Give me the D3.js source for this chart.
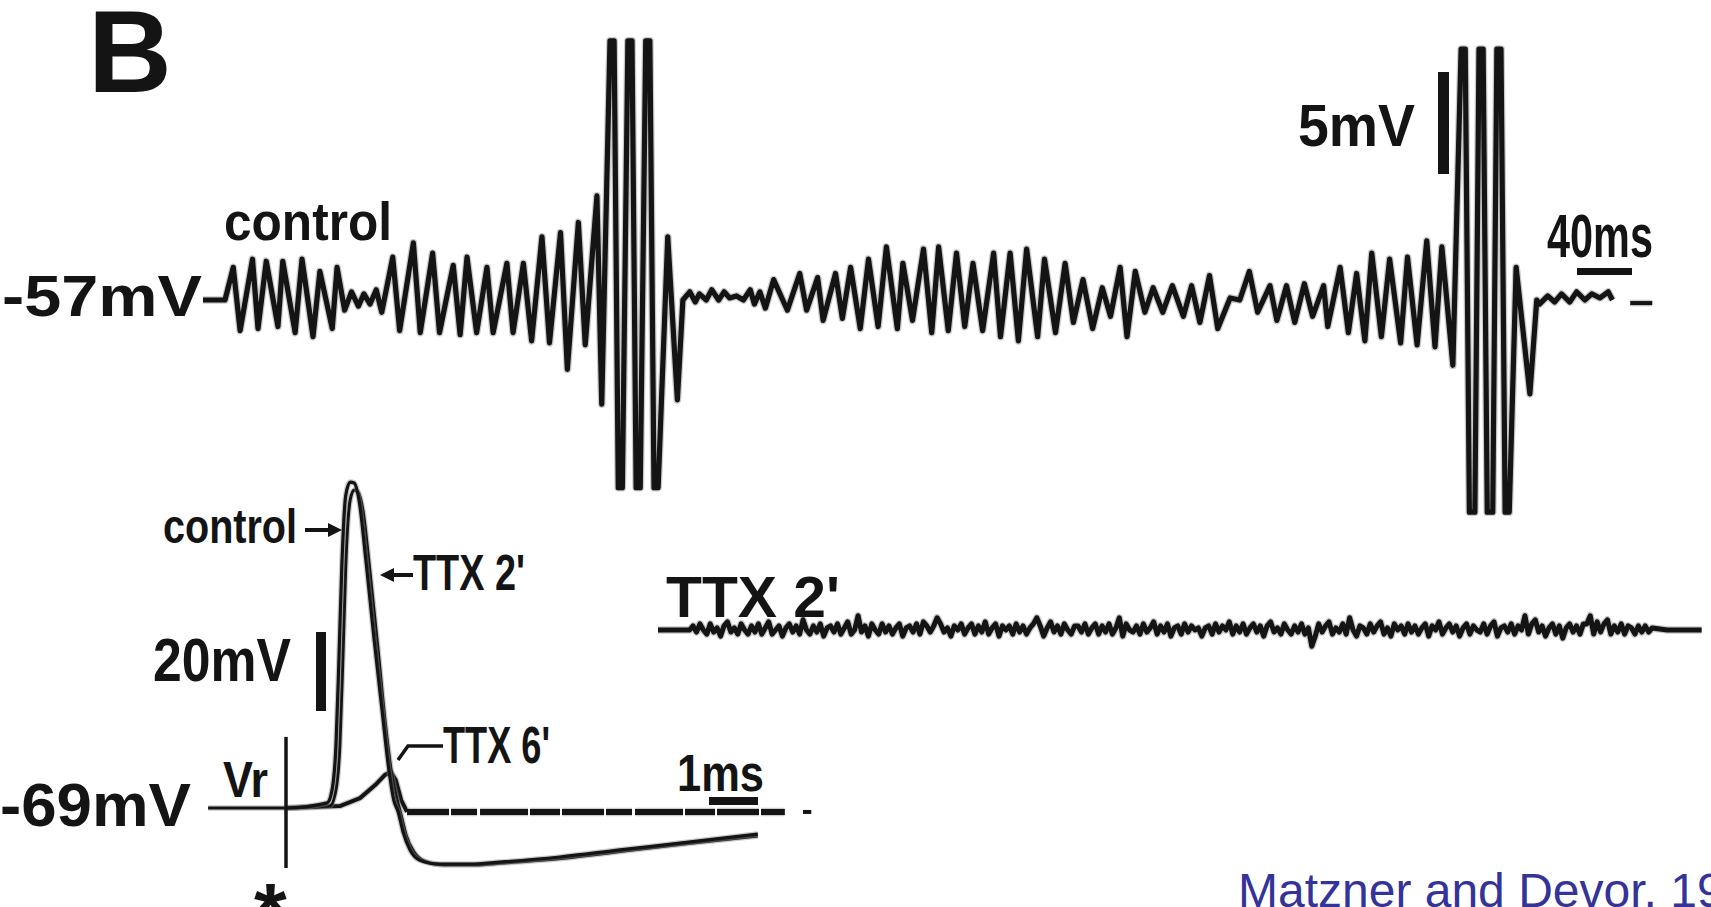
<!DOCTYPE html>
<html><head><meta charset="utf-8">
<script src="https://cdn.jsdelivr.net/npm/d3@7"></script>
<style>html,body{margin:0;padding:0;background:#fff;overflow:hidden}</style>
</head><body>
<svg id="fig" width="1711" height="907"></svg>
<script>
// Control recording at -57 mV: [time (ms), deflection from rest (mV)]
const controlTrace = [
  [0,0],[16,0],
  [22,1.6],[27,-1.5],[36,2.0],[40,-1.4],[46,1.9],[54.5,-1.3],[58,1.9],[67,-1.6],[72,2.0],[80,-1.8],
  [85,1.4],[94,-1.4],[97.5,1.6],[103,-0.5],[108,0.4],[113,-0.3],[117,0.3],[121.5,-0.2],[126,0.5],[130,-0.6],
  [138,2.1],[143,-1.5],[153,2.8],[158,-1.6],[167,2.3],[172,-1.6],[182,1.7],[187,-1.7],[192,2.1],[199,-1.6],
  [206.5,1.6],[211,-1.6],[221,1.8],[225.5,-1.6],[233,1.8],[239,-2.0],[246.5,3.1],[252,-2.1],[260,3.3],[265,-3.4],
  [273,3.8],[278,-2.2],[286.5,5.1],[290,-5.1],
  [296,12.7],[299,12.7],[302,-9.2],[305,-9.2],[309,12.7],[312,12.7],[315,-9.2],[318,-9.2],
  [322,12.7],[325,12.7],[328,-9.2],[331,-9.2],
  [338,3.1],[345,-4.9],[349,0],
  [354,0.4],[358,-0.1],[361,0.3],[366,0],[370,0.5],[375,0],[379,0.4],[383,0.1],[388,0.2],[393,0],[398,0.5],[401,-0.2],[405,0.4],[409,-0.4],
  [415,1.0],[425,-0.5],[434,1.3],[439,-0.5],[447,1.1],[451,-1.0],[460,1.3],[465,-0.9],[471,1.6],[478,-1.4],
  [484,2.0],[491,-1.3],[497,2.6],[505,-1.4],[509,1.8],[516,-1.0],[524,2.5],[530,-1.6],[535,2.6],[542,-1.5],
  [548,2.3],[554,-1.3],[560,1.8],[567,-1.5],[575,2.3],[580,-1.8],[587,2.3],[593,-2.0],[599,2.5],[607,-1.8],
  [612,2.0],[620,-1.6],[627,1.8],[633,-1.1],[640,1.0],[647,-1.4],[654,0.6],[660,-0.8],[667,1.6],[672,-1.8],
  [678,1.4],[685,-0.6],[691,0.6],[698,-0.6],[705,0.7],[713,-0.8],[719,0.7],[725,-1.1],[732,1.2],[738,-1.4],
  [747,0.1],[754,0],[761,1.4],[767,-0.6],[776,0.7],[781,-1.0],[788,0.7],[794,-1.1],[801,0.8],[807,-0.8],
  [815,0.7],[818,-1.3],[827,1.6],[833,-1.6],[839,1.3],[845,-2.0],[850,2.3],[857,-1.8],[863,2.0],[871,-2.1],
  [876,2.1],[883,-2.2],[890,2.9],[896,-2.3],[901,2.6],[909,-3.2],
  [915,12.3],[918,12.3],[921,-10.4],[925,-10.4],[928,12.3],[931,12.3],[934,-10.4],[938,-10.4],
  [941,12.3],[944,12.3],[947,-10.4],[950,-10.4],
  [955,1.6],[965,-4.6],[970,0],
  [972,-0.2],[978,0.2],[983,-0.1],[988,0.3],[994,-0.1],[999,0.4],[1005,0],[1010,0.3],[1016,0.1],[1022,0.4],[1025,0]
];
// Short resting-level marker after the control sweep
const controlTail = [[1038,-0.15],[1054,-0.15]];

// Same cell 2 min into TTX: deflection from rest (mV), sampled every 2.5 ms from 23 ms
const ttxSweepStart = [[0,0],[23,0]];
const ttxSweepNoise = [
  0.2,-0.1,0.3,0.0,-0.2,0.3,-0.1,0.1,-0.3,0.2,0.4,-0.1,0.1,-0.2,0.3,0.0,-0.2,0.2,-0.1,0.3,
  -0.2,0.1,0.4,-0.2,0.0,0.2,-0.3,0.1,0.3,-0.1,0.2,-0.2,0.5,0.0,-0.2,0.2,-0.1,0.3,-0.3,0.1,
  0.2,-0.1,0.3,-0.2,0.1,0.4,-0.2,0.0,0.7,-0.1,0.2,-0.3,0.3,0.0,-0.2,0.3,-0.1,0.2,-0.2,0.1,
  0.3,-0.3,0.1,0.2,-0.1,0.3,-0.2,0.4,0.2,-0.1,0.2,0.6,0.3,-0.1,0.1,-0.3,0.2,0.0,0.3,-0.2,
  0.1,0.3,-0.2,0.2,-0.1,0.4,-0.2,0.1,0.3,-0.3,0.2,0.0,0.2,-0.2,0.3,-0.1,0.2,-0.2,0.1,0.3,
  0.6,0.2,-0.3,0.1,0.4,-0.1,0.2,-0.2,0.3,0.0,-0.2,0.2,0.2,-0.1,0.3,-0.2,0.1,0.3,-0.2,0.2,
  -0.1,0.3,-0.2,0.1,0.6,-0.3,0.3,0.0,-0.1,0.2,-0.2,0.3,-0.1,0.1,0.4,-0.2,0.2,-0.1,0.3,-0.3,
  0.1,0.2,-0.2,0.3,-0.1,0.2,0.0,0.1,-0.3,0.1,0.2,-0.2,0.3,-0.1,0.2,0.0,0.4,-0.2,0.2,-0.1,
  0.3,-0.2,0.1,0.3,-0.1,0.2,-0.3,0.2,0.4,-0.1,0.1,-0.2,0.3,0.0,-0.2,0.2,-0.1,0.3,-0.2,0.1,
  -0.8,-0.3,0.3,-0.1,0.2,0.4,-0.2,0.1,-0.1,0.3,-0.2,0.6,0.0,-0.3,0.2,0.1,-0.2,0.3,-0.1,0.2,
  0.4,-0.2,0.1,-0.3,0.3,0.0,0.2,-0.2,0.3,-0.1,0.2,-0.2,0.1,0.3,-0.3,0.2,0.0,0.4,-0.2,0.1,
  0.3,-0.1,0.2,-0.3,0.1,0.3,-0.2,0.2,0.0,-0.1,0.3,-0.2,0.2,0.4,-0.3,0.1,0.2,-0.1,0.3,-0.2,
  0.2,0.0,0.7,-0.2,0.3,0.5,-0.1,0.2,-0.3,0.1,0.3,-0.2,0.2,-0.4,0.1,0.3,-0.1,0.2,-0.2,0.3,
  0.3,0.7,-0.2,0.4,-0.1,0.3,0.5,-0.2,0.2,-0.1,0.3,-0.2,0.2,0.1,-0.2,0.2,-0.1,0.2,-0.1,0.1
];
const ttxSweepNoiseStep = 2.5;
const ttxSweepEnd = [[734,0],[759,0]];

// Evoked spikes at -69 mV: [time after stimulus (ms), membrane potential (mV)]
const spikeControl = [
  [-1.59,-69],[0,-69],[0.84,-67.7],[0.94,-64.4],[1.02,-53.1],[1.08,-31.5],[1.14,-7.5],[1.22,10.2],[1.31,13.5],
  [1.39,13.3],[1.49,9.0],[1.63,-6.2],[1.80,-26.5],[1.96,-44.2],[2.10,-59.4],[2.20,-67.0],[2.29,-70.0],
  [2.39,-75.1],[2.53,-79.6],[2.73,-82.2],[3.14,-83.2],[3.76,-83.2],[4.37,-82.7],[5.59,-81.4],[6.82,-79.6],
  [8.04,-77.9],[9.63,-75.6]
];
const spikeTtx2 = [
  [0,-69],[0.90,-68.5],[1.02,-64.4],[1.10,-53.1],[1.16,-31.5],[1.22,-7.5],[1.31,9.0],[1.39,11.5],[1.47,11.0],
  [1.57,6.4],[1.71,-8.7],[1.88,-29.0],[2.02,-46.7],[2.16,-60.6],[2.27,-67.0],[2.35,-70.8],[2.45,-75.8],
  [2.61,-80.1],[2.82,-82.4],[3.22,-83.4],[3.84,-83.4],[4.45,-82.9],[5.67,-81.7],[6.90,-79.9],[8.12,-78.1],
  [9.63,-76.1]
];
const spikeTtx6 = [
  [0,-69],[1.10,-68.5],[1.51,-66.5],[1.82,-63.2],[2.02,-60.6],[2.14,-59.9],[2.24,-61.9],[2.35,-67.0],
  [2.47,-70.0]
];
const spikeTtx6Late = [[2.47,-70.0],[6.41,-70.0],[10.18,-70.0]];
const spikeEndMark = [[10.55,-70],[10.72,-70]];
const stimArtifact = [-51, -84.2];   // extent of the stimulus artefact (mV)
const inputRest = -69;

// Scale bars
const topBarMv = 5, topBarMs = 40, insetBarMv = 20, insetBarMs = 1;

const svg = d3.select("#fig");
svg.append("rect").attr("width",1711).attr("height",907).attr("fill","#fff");

const ink = "#141414";
const narrow = "'Liberation Sans Narrow','Arial Narrow','Liberation Sans',Arial,sans-serif";

// Scales
const xTop = d3.scaleLinear().domain([0,1000]).range([203,1578]);
const yTop = d3.scaleLinear().domain([0,5]).range([300,198]);
const xMid = d3.scaleLinear().domain([0,1000]).range([658,2033]);
const yMid = d3.scaleLinear().domain([0,5]).range([630,528]);
const xIn = d3.scaleLinear().domain([0,1]).range([286,335]);
const yIn = d3.scaleLinear().domain([-69,-49]).range([808,729]);

const lineTop = d3.line().x(d=>xTop(d[0])).y(d=>yTop(d[1]));
const lineMid = d3.line().x(d=>xMid(d[0])).y(d=>yMid(d[1]));
const lineIn = d3.line().x(d=>xIn(d[0])).y(d=>yIn(d[1])).curve(d3.curveMonotoneX);
const lineInStraight = d3.line().x(d=>xIn(d[0])).y(d=>yIn(d[1]));

function trace(g, d, gen, w, dash){
  g.append("path").attr("d", gen(d)).attr("fill","none").attr("stroke","#8a8a8a")
    .attr("stroke-width", w+2.5).attr("stroke-opacity",0.45).attr("stroke-linejoin","round")
    .attr("stroke-dasharray", dash || null);
  g.append("path").attr("d", gen(d)).attr("fill","none").attr("stroke",ink)
    .attr("stroke-width", w).attr("stroke-linejoin","round").attr("stroke-linecap","butt")
    .attr("stroke-dasharray", dash || null);
}

// ---- top sweep (control) ----
const gTop = svg.append("g");
trace(gTop, controlTrace, lineTop, 5.2);
trace(gTop, controlTail, lineTop, 4);

// ---- TTX 2' sweep ----
const ttxSweep = ttxSweepStart
  .concat(ttxSweepNoise.map((v,i)=>[23 + ttxSweepNoiseStep*(i+1), v]))
  .concat(ttxSweepEnd);
const gMid = svg.append("g");
trace(gMid, ttxSweep, lineMid, 5);

// ---- inset: evoked spikes ----
const gIn = svg.append("g");
trace(gIn, spikeTtx6, lineInStraight, 4);
trace(gIn, spikeTtx6Late, lineInStraight, 6, "42 2 26 3 48 2 30 2");
trace(gIn, spikeTtx2, lineIn, 3);
trace(gIn, spikeControl, lineIn, 3.2);
gIn.append("path").attr("d", lineInStraight(spikeEndMark)).attr("stroke",ink).attr("stroke-width",4);
// stimulus artefact
gIn.append("line").attr("x1",xIn(0)).attr("x2",xIn(0))
  .attr("y1",yIn(stimArtifact[0])).attr("y2",yIn(stimArtifact[1]))
  .attr("stroke",ink).attr("stroke-width",3.5);

// ---- scale bars ----
const bars = svg.append("g").attr("fill",ink);
// 5 mV
bars.append("rect").attr("x",1438).attr("width",11)
  .attr("y",72).attr("height",yTop(0)-yTop(topBarMv));
// 40 ms
bars.append("rect").attr("x",xTop(1000)-1).attr("y",268).attr("height",7)
  .attr("width",xTop(topBarMs)-xTop(0));
// 20 mV
bars.append("rect").attr("x",316).attr("width",10)
  .attr("y",632).attr("height",yIn(inputRest)-yIn(inputRest+insetBarMv));
// 1 ms
bars.append("rect").attr("x",709).attr("y",797).attr("height",8)
  .attr("width",xIn(insetBarMs)-xIn(0));

// ---- labels ----
function label(txt, x, y, size, len, opts={}){
  const t = svg.append("text").attr("x",x).attr("y",y).text(txt)
    .attr("font-family", opts.family || narrow)
    .attr("font-weight", opts.weight || "bold")
    .attr("font-size", size).attr("fill", opts.fill || ink);
  if (len) t.attr("textLength",len).attr("lengthAdjust","spacingAndGlyphs");
  return t;
}
label("B", 88, 92, 116, null, {family:"'Liberation Sans',Arial,sans-serif"});
label("control", 224, 240, 54, 168);
label("-57mV", 2, 316, 58, 200);
label("5mV", 1298, 146, 60, 117);
label("40ms", 1547, 257, 62, 106);
label("TTX 2'", 666, 617, 58, 174);
label("control", 163, 543, 48, 134);
label("TTX 2'", 413, 590, 50, 112);
label("20mV", 153, 681, 62, 138);
label("TTX 6'", 443, 763, 52, 107);
label("Vr", 223, 797, 50, 45);
label("-69mV", 0, 826, 62, 191);
label("1ms", 677, 791, 52, 87);
label("*", 254, 942, 84, null, {family:"'Liberation Sans',Arial,sans-serif"});
label("Matzner and Devor, 1994", 1238, 907, 48, null,
  {family:"'Liberation Sans',Arial,sans-serif", weight:"normal", fill:"#333399"});

// arrows and leader line in the inset
const arrows = svg.append("g").attr("stroke",ink).attr("fill",ink);
arrows.append("line").attr("x1",305).attr("x2",332).attr("y1",530).attr("y2",530).attr("stroke-width",4);
arrows.append("path").attr("d","M342,530 L328,523 L328,537 Z").attr("stroke","none");
arrows.append("line").attr("x1",390).attr("x2",413).attr("y1",575).attr("y2",575).attr("stroke-width",4);
arrows.append("path").attr("d","M380,575 L394,568 L394,582 Z").attr("stroke","none");
svg.append("path").attr("d","M398,760 L408,746 L443,746").attr("fill","none")
  .attr("stroke",ink).attr("stroke-width",3.5);
</script>
</body></html>
